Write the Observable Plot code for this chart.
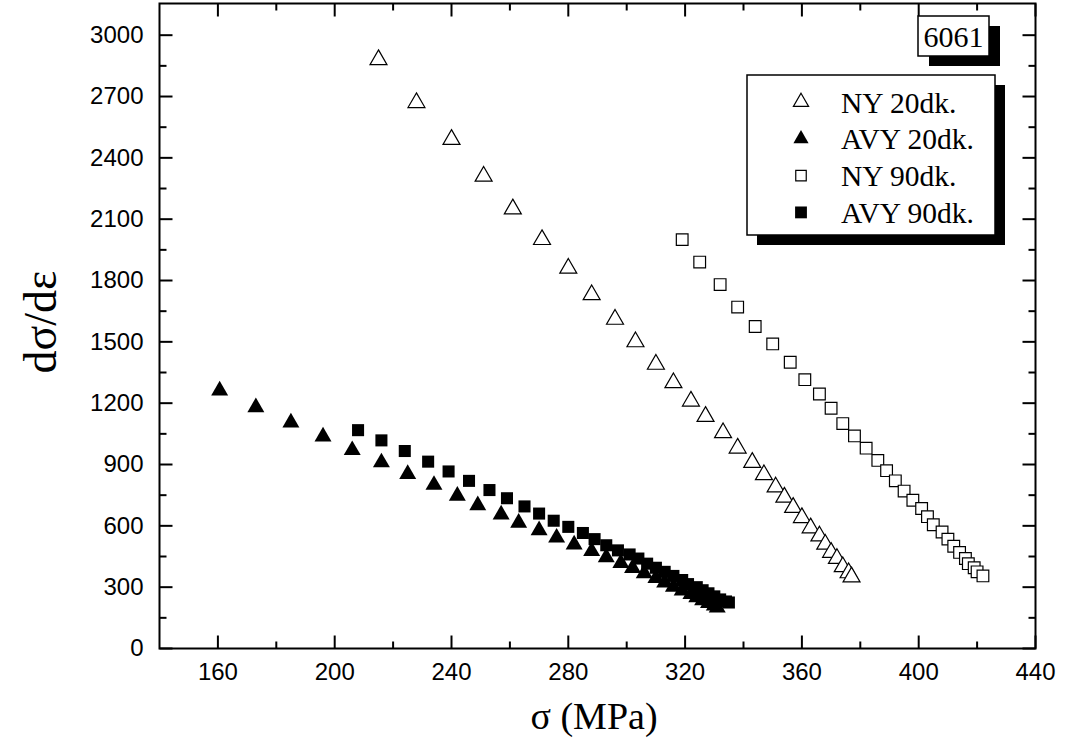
<!DOCTYPE html>
<html><head><meta charset="utf-8">
<script src="https://cdn.jsdelivr.net/npm/d3@7"></script>
<script src="https://cdn.jsdelivr.net/npm/@observablehq/plot@0.6"></script>
<style>
body{margin:0;background:#fff}
#chart{position:relative;width:1067px;height:738px}
</style>
</head><body><div id="chart"></div>
<script>
// ---- data ----
const sigmaNY20 = [215,228,240,251,261,271,280,288,296,303,310,316,322,327,333,338,343,347,351,354,357,360,363,366,368,370,372,374,376,377];
const slopeNY20 = [2880,2670,2490,2310,2150,2000,1860,1730,1610,1500,1390,1300,1210,1135,1055,980,910,850,790,740,690,640,590,550,510,470,440,400,370,350];

const sigmaAVY20 = [160.6,173,185,196,206,216,225,234,242,249,257,263,270,276,282,288,293,298,302,306,310,313,316,319,322,324,326,328,330,331];
const slopeAVY20 = [1262,1180,1105,1037,970,910,853,800,747,700,655,615,578,542,508,476,446,418,393,368,344,322,302,283,266,250,236,222,210,200];

const sigmaNY90 = [319,325,332,338,344,350,356,361,366,370,374,378,382,386,389,392,395,398,401,403,405,408,410,412,414,416,417,419,420,422];
const slopeNY90 = [2000,1890,1780,1670,1575,1490,1400,1315,1245,1175,1100,1040,980,920,870,820,770,725,685,645,605,570,535,500,470,440,415,395,375,355];

const sigmaAVY90 = [208,216,224,232,239,246,253,259,265,270,275,280,285,289,293,297,301,304,307,310,313,316,319,321,324,326,328,330,332,334,335];
const slopeAVY90 = [1068,1018,966,914,866,820,775,735,695,660,625,595,565,535,505,480,460,440,415,395,375,355,335,315,300,285,270,255,240,230,225];

const seriesNames = ["NY 20dk.","AVY 20dk.","NY 90dk.","AVY 90dk."];
const xMajor = [160,200,240,280,320,360,400,440];
const xMinor = [180,220,260,300,340,380,420];
const yMajor = [0,300,600,900,1200,1500,1800,2100,2400,2700,3000];
const yMinor = [150,450,750,1050,1350,1650,1950,2250,2550,2850];
const xTitle = "σ (MPa)";
const yTitle = "dσ/dε";
const badge = "6061";

const toRows = (xs, ys) => xs.map((x, i) => ({x, y: ys[i]}));
const ny20 = toRows(sigmaNY20, slopeNY20);
const avy20 = toRows(sigmaAVY20, slopeAVY20);
const ny90 = toRows(sigmaNY90, slopeNY90);
const avy90 = toRows(sigmaAVY90, slopeAVY90);

// ---- plot ----
const seg = (dx, dy) => ({draw(ctx){ ctx.moveTo(0,0); ctx.lineTo(dx,dy); }});
const tickStyle = {fill: "none", stroke: "black", strokeWidth: 2};
const MAJ = 13, MIN = 7;

const plot = Plot.plot({
  width: 1067, height: 738,
  marginLeft: 159, marginRight: 32, marginTop: 3, marginBottom: 90,
  style: {fontFamily: "'Liberation Sans', Arial, sans-serif", fontSize: "24px", color: "black", background: "white"},
  x: {domain: [140, 440], ticks: xMajor, tickSize: 0, tickPadding: 14, tickFormat: d => String(d), label: null},
  y: {domain: [0, 3155], ticks: yMajor, tickSize: 0, tickPadding: 16, tickFormat: d => String(d), label: null},
  marks: [
    Plot.dot(xMajor, {x: d => d, frameAnchor: "bottom", symbol: seg(0, -MAJ), ...tickStyle}),
    Plot.dot(xMinor, {x: d => d, frameAnchor: "bottom", symbol: seg(0, -MIN), ...tickStyle}),
    Plot.dot(xMajor, {x: d => d, frameAnchor: "top", symbol: seg(0, MAJ), ...tickStyle}),
    Plot.dot(xMinor, {x: d => d, frameAnchor: "top", symbol: seg(0, MIN), ...tickStyle}),
    Plot.dot(yMajor, {y: d => d, frameAnchor: "left", symbol: seg(MAJ, 0), ...tickStyle}),
    Plot.dot(yMinor, {y: d => d, frameAnchor: "left", symbol: seg(MIN, 0), ...tickStyle}),
    Plot.dot(yMajor, {y: d => d, frameAnchor: "right", symbol: seg(-MAJ, 0), ...tickStyle}),
    Plot.dot(yMinor, {y: d => d, frameAnchor: "right", symbol: seg(-MIN, 0), ...tickStyle}),
    Plot.frame({stroke: "black", strokeWidth: 2}),
    Plot.dot(ny20, {x: "x", y: "y", symbol: "triangle", r: 6.3, fill: "white", stroke: "black", strokeWidth: 1.2}),
    Plot.dot(ny90, {x: "x", y: "y", symbol: "square", r: 6.6, fill: "white", stroke: "black", strokeWidth: 1.2}),
    Plot.dot(avy20, {x: "x", y: "y", symbol: "triangle", r: 6.3, fill: "black", stroke: "none"}),
    Plot.dot(avy90, {x: "x", y: "y", symbol: "square", r: 6.8, fill: "black", stroke: "none"})
  ]
});

document.getElementById("chart").appendChild(plot);

// ---- titles, badge and legend (drawn into the SVG) ----
const svg = d3.select(plot);
const serif = "'Liberation Serif', 'Times New Roman', serif";

svg.append("text").attr("x", 594).attr("y", 729).attr("text-anchor", "middle")
  .attr("font-family", serif).attr("font-size", 38).attr("fill", "black").text(xTitle);
svg.append("text").attr("transform", "translate(56,322) rotate(-90)").attr("text-anchor", "middle")
  .attr("font-family", serif).attr("font-size", 46).attr("fill", "black").text(yTitle);

// badge
svg.append("rect").attr("x", 929).attr("y", 26).attr("width", 71).attr("height", 40).attr("fill", "black");
svg.append("rect").attr("x", 918).attr("y", 16).attr("width", 71).attr("height", 40).attr("fill", "white").attr("stroke", "black").attr("stroke-width", 1.5);
svg.append("text").attr("x", 953.5).attr("y", 47).attr("text-anchor", "middle")
  .attr("font-family", serif).attr("font-size", 30).attr("fill", "black").text(badge);

// legend
svg.append("rect").attr("x", 757).attr("y", 85).attr("width", 248).attr("height", 160).attr("fill", "black");
svg.append("rect").attr("x", 747).attr("y", 75).attr("width", 248).attr("height", 160).attr("fill", "white").attr("stroke", "black").attr("stroke-width", 1.5);
const legSyms = [
  {sym: d3.symbolTriangle, size: 100, fill: "white", stroke: "black"},
  {sym: d3.symbolTriangle, size: 100, fill: "black", stroke: "none"},
  {sym: d3.symbolSquare, size: 110, fill: "white", stroke: "black"},
  {sym: d3.symbolSquare, size: 140, fill: "black", stroke: "none"}
];
seriesNames.forEach((name, i) => {
  const cy = 100 + i * 36.8;
  const s = legSyms[i];
  svg.append("path").attr("d", d3.symbol(s.sym, s.size)())
    .attr("transform", `translate(801,${cy + 2})`)
    .attr("fill", s.fill).attr("stroke", s.stroke).attr("stroke-width", 1.2);
  svg.append("text").attr("x", 841).attr("y", cy + 12.5).attr("text-anchor", "start")
    .attr("font-family", serif).attr("font-size", 29.5).attr("fill", "black").text(name);
});
</script>
</body></html>
